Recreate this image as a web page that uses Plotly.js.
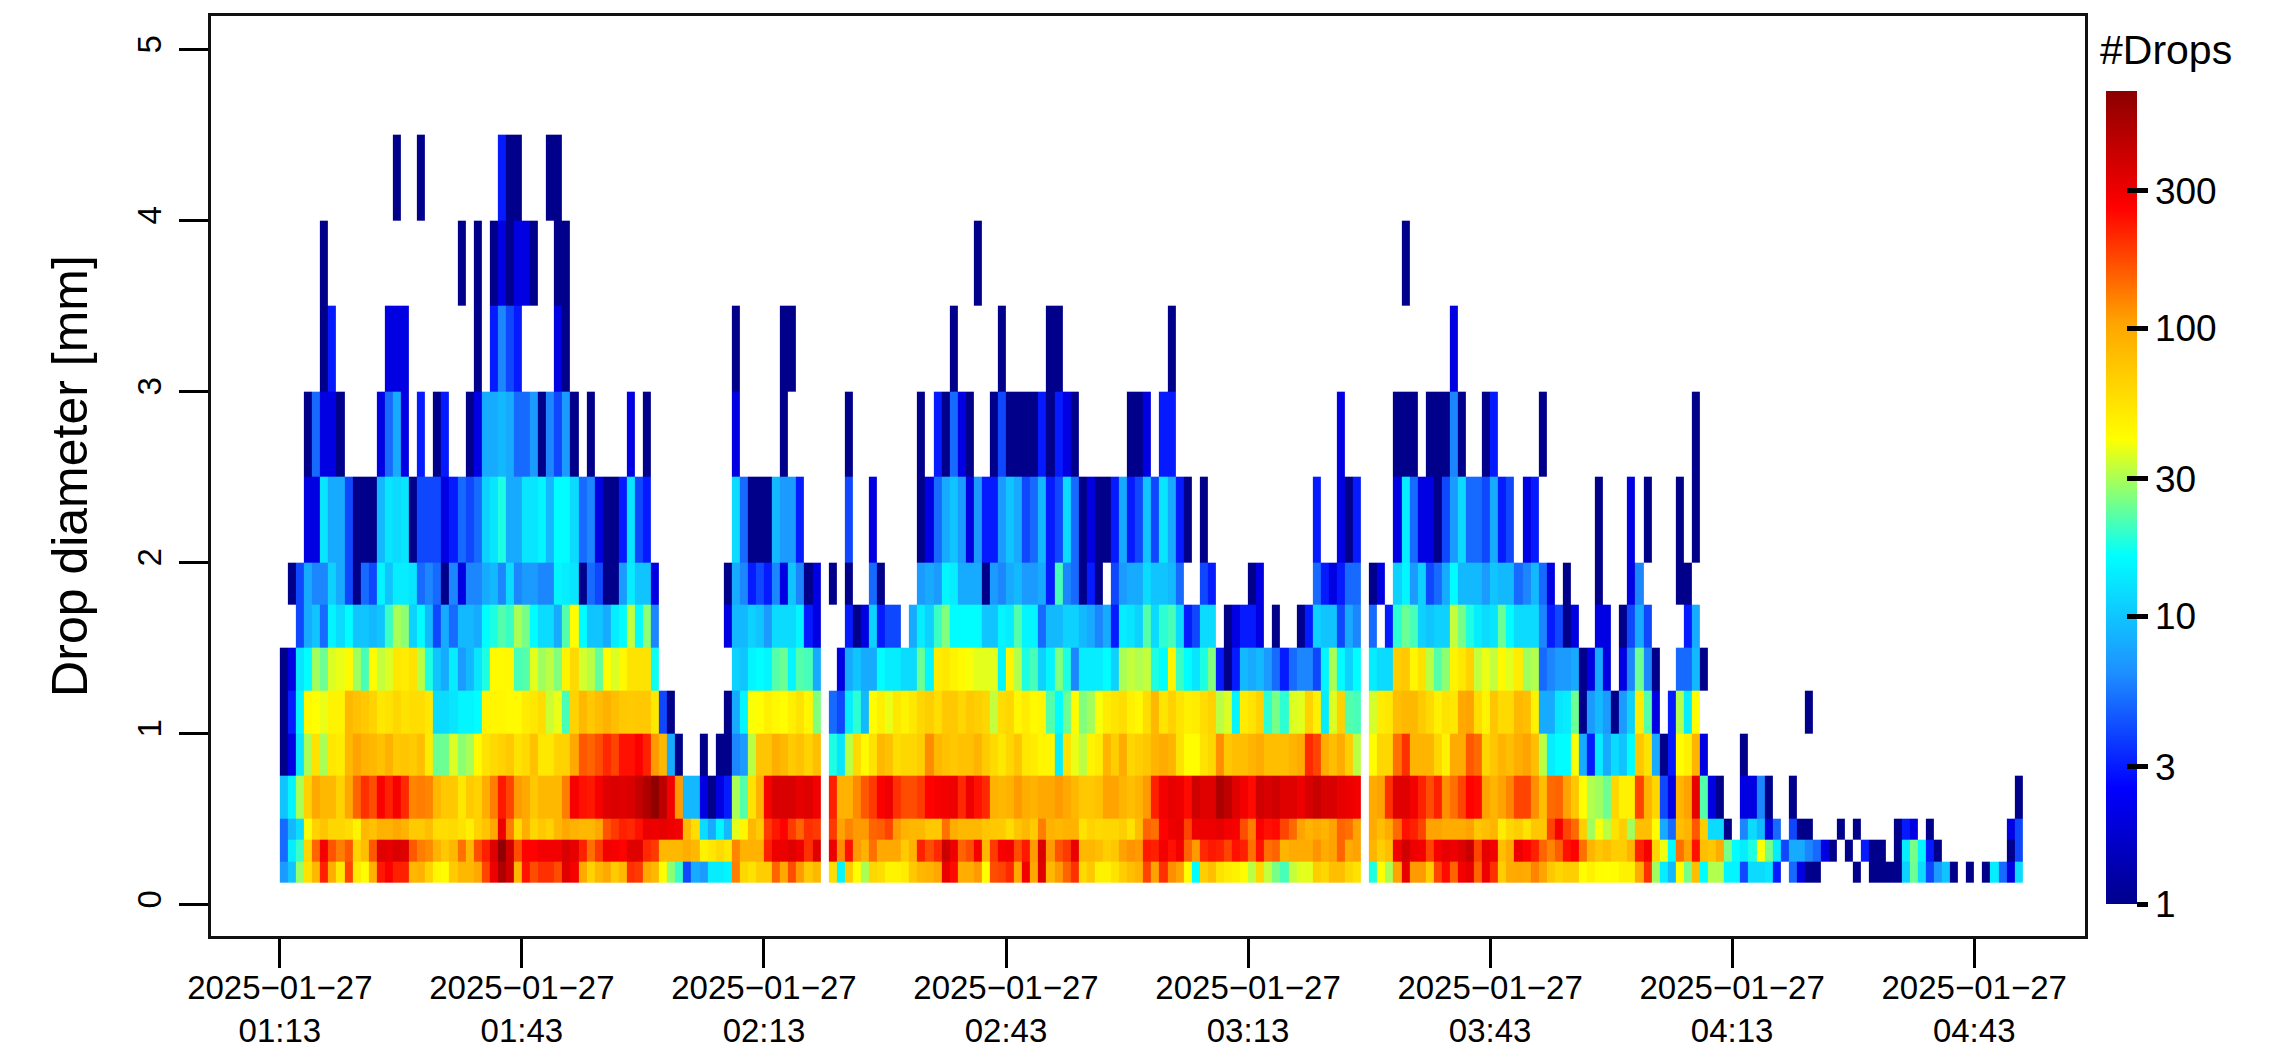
<!DOCTYPE html>
<html>
<head>
<meta charset="utf-8">
<script src="https://cdn.plot.ly/plotly-3.0.1.min.js"></script>
<style>html,body{margin:0;padding:0;background:#fff}</style>
</head>
<body>
<div id="chart" style="width:2279px;height:1050px"></div>
<script>
// drop counts per minute, one list per diameter class, 0 = no drops (left white)
var bin0125 = [7,10,28,55,85,220,95,52,180,50,42,90,230,270,220,220,85,90,65,45,42,70,85,85,100,180,300,500,380,85,240,170,200,200,170,340,280,100,65,85,100,70,85,200,190,100,85,42,27,20,
4,8,7,14,14,15,130,62,55,68,68,150,100,170,110,72,85,0,58,15,70,42,30,62,58,46,46,50,72,85,90,100,310,250,95,95,110,42,170,180,210,100,290,100,340,85,110,150,200,60,72,47,
47,55,68,80,88,180,105,200,118,105,42,16,68,80,55,50,47,42,32,62,33,25,21,33,37,37,68,62,80,80,62,55,0,18,42,30,105,320,110,110,68,180,250,150,290,320,150,300,200,68,98,100,
98,125,105,73,62,68,68,42,47,42,41,42,47,47,98,200,29,14,9,42,25,80,16,31,31,15,15,4,12,12,13,3,0,5,2,1,1,0,0,0,0,1,0,1,1,1,1,11,24,12,4,7,10,1,0,1,0,1,14,5,2,12];
var bin0250 = [5,14,20,62,150,290,165,130,160,65,80,160,340,320,350,340,160,130,120,90,72,85,140,85,170,220,340,640,380,170,260,260,290,290,290,360,320,220,140,190,290,280,260,340,340,210,190,85,85,85,
95,85,47,52,60,52,125,90,90,90,220,300,310,340,300,200,340,0,300,120,240,110,90,140,100,100,100,70,90,220,170,210,400,300,150,170,280,85,190,280,290,170,230,110,350,110,165,190,310,85,85,80,
68,73,105,115,110,230,220,290,240,290,150,110,210,230,220,180,240,220,140,240,140,150,88,98,98,98,115,98,105,150,98,105,0,88,68,80,290,390,300,290,180,280,320,300,340,410,180,320,290,80,98,300,
260,220,150,125,155,240,260,140,88,73,80,68,68,88,220,280,62,39,16,140,105,240,80,73,98,25,16,14,18,41,25,14,4,8,8,6,5,2,1,0,1,0,3,1,1,0,1,14,25,15,3,1,0,0,0,0,0,0,0,0,1,4];
var bin0375 = [5,9,12,40,65,75,62,62,58,46,85,78,92,90,100,90,70,70,80,58,58,60,55,48,65,75,100,300,130,60,95,62,72,65,85,100,90,85,85,100,165,190,220,210,240,310,300,320,300,290,
85,58,12,8,15,9,37,45,85,70,190,230,260,190,150,200,190,0,190,105,125,110,110,150,155,180,110,90,85,85,72,72,140,95,85,85,85,75,72,70,58,75,85,70,130,90,85,90,90,55,65,60,
62,62,68,55,80,150,140,260,300,320,180,300,300,300,320,290,280,170,130,270,240,250,180,145,105,88,98,88,105,150,140,105,0,98,80,98,145,240,220,180,105,105,98,98,98,105,73,80,88,50,62,68,
55,73,73,180,280,180,145,68,29,40,32,55,68,29,80,80,42,8,5,80,88,160,68,12,12,1,0,6,12,9,2,5,0,4,1,1,0,0,0,1,0,1,0,0,0,0,1,3,2,0,1,0,0,0,0,0,0,0,0,0,2,4];
var bin0500 = [10,15,30,65,100,85,85,65,100,150,200,170,270,220,280,210,125,130,125,85,72,72,52,70,65,95,130,230,180,110,100,72,85,85,85,130,280,240,230,280,340,350,340,350,420,500,640,450,290,110,
9,9,2,1,2,3,30,22,55,90,280,360,360,360,320,340,290,0,220,90,90,120,160,190,270,300,200,170,170,190,260,280,290,300,210,300,240,210,90,85,90,110,95,90,100,100,110,100,85,72,72,78,
105,105,88,80,88,110,220,290,320,300,250,390,340,340,510,440,340,290,250,390,360,390,340,340,300,360,410,360,360,320,300,290,0,98,105,200,340,340,290,220,170,220,118,140,180,260,250,105,88,105,125,180,
180,118,80,145,150,105,73,42,31,29,24,62,47,47,180,88,62,4,2,88,105,320,22,2,1,0,0,2,2,6,1,0,0,1,0,0,0,0,0,0,0,0,0,0,0,0,0,0,0,0,0,0,0,0,0,0,0,0,0,0,0,1];
var bin0750 = [1,2,13,30,55,30,52,50,85,105,90,85,78,92,72,75,70,80,50,24,24,36,27,30,43,55,60,65,72,55,60,78,52,52,65,65,100,160,150,170,210,180,240,240,270,220,110,85,8,1,
0,0,1,0,1,1,6,7,32,75,75,95,85,70,78,65,80,0,18,13,32,60,43,55,85,78,58,62,62,68,120,85,78,72,78,78,90,70,60,52,62,75,52,50,45,45,14,55,38,32,46,50,
88,68,98,62,68,73,88,98,88,55,42,42,55,62,118,73,80,80,88,98,80,80,80,88,98,210,180,98,80,98,68,32,0,42,62,62,140,200,88,88,88,62,47,98,98,160,145,62,73,88,80,95,
105,80,32,14,16,16,40,8,3,14,8,12,10,16,73,55,8,1,3,42,47,88,2,0,0,0,0,1,0,0,0,0,0,0,0,0,0,0,0,0,0,0,0,0,0,0,0,0,0,0,0,0,0,0,0,0,0,0,0,0,0,0];
var bin1000 = [1,3,15,43,41,38,46,46,85,78,72,65,52,55,62,55,58,58,52,12,12,13,15,15,16,46,45,45,43,43,50,52,58,34,38,21,65,85,72,82,92,80,72,70,72,72,52,4,1,0,
0,0,0,0,0,1,8,15,40,42,48,44,42,48,55,45,26,0,5,4,14,19,9,42,48,38,52,46,52,62,68,58,72,72,62,72,68,62,33,58,62,45,50,43,45,22,16,24,42,26,29,40,
50,54,58,48,44,58,85,54,65,54,48,50,58,65,32,36,15,50,54,65,19,25,19,36,37,65,48,14,36,65,22,21,0,35,50,52,80,85,85,70,60,48,55,52,100,105,58,46,75,60,60,85,
80,47,8,8,13,14,24,1,7,9,7,1,7,11,50,22,2,0,3,31,14,42,0,0,0,0,0,0,0,0,0,0,0,0,0,1,0,0,0,0,0,0,0,0,0,0,0,0,0,0,0,0,0,0,0,0,0,0,0,0,0,0];
var bin1250 = [1,2,13,16,29,24,36,38,43,29,21,42,33,36,52,50,55,32,18,10,8,14,7,9,13,18,43,43,44,21,22,37,29,32,26,46,60,35,32,23,42,36,44,55,55,55,17,0,0,0,
0,0,0,0,0,0,11,10,15,16,15,22,24,15,22,21,8,0,0,2,8,10,8,8,16,14,14,12,12,24,15,50,52,46,43,40,37,37,37,15,46,31,18,21,11,15,26,18,6,14,14,14,
16,11,30,33,31,33,18,16,46,20,16,13,18,26,3,1,3,9,8,9,7,5,3,5,6,6,4,15,30,16,11,16,0,14,12,12,68,72,45,55,32,22,27,46,52,65,33,38,33,43,37,50,
29,31,5,6,7,7,8,1,2,8,2,0,2,6,24,6,1,0,0,5,5,9,1,0,0,0,0,0,0,0,0,0,0,0,0,0,0,0,0,0,0,0,0,0,0,0,0,0,0,0,0,0,0,0,0,0,0,0,0,0,0,0];
var bin1500 = [0,0,4,8,10,5,15,12,16,10,10,9,10,20,30,27,11,16,9,4,8,5,9,9,8,16,18,22,20,30,25,16,12,12,8,22,42,16,10,10,8,14,16,33,16,27,6,0,0,0,
0,0,0,0,0,2,9,9,11,10,7,12,12,12,15,3,2,0,0,0,3,1,2,11,3,4,4,0,8,14,11,20,26,16,16,16,16,10,10,15,14,22,15,15,5,9,9,11,11,9,8,6,
8,3,14,13,11,22,12,19,21,12,3,4,12,12,0,1,2,3,3,2,0,1,0,0,1,3,11,10,10,4,8,6,0,5,0,3,19,24,21,11,10,11,11,33,25,18,14,12,13,24,16,12,
12,12,6,3,4,1,2,0,0,2,2,0,1,4,8,4,0,0,0,0,3,8,0,0,0,0,0,0,0,0,0,0,0,0,0,0,0,0,0,0,0,0,0,0,0,0,0,0,0,0,0,0,0,0,0,0,0,0,0,0,0,0];
var bin1750 = [0,1,4,8,6,6,11,8,4,1,5,4,15,10,14,14,13,5,6,5,1,6,2,6,6,8,9,6,12,6,7,7,6,6,15,14,13,1,5,4,1,1,7,14,10,10,2,0,0,0,
0,0,0,0,0,1,8,6,3,4,3,6,2,10,6,1,2,0,1,0,1,0,0,5,1,0,0,0,0,7,8,7,15,14,8,8,8,1,7,6,8,9,7,7,8,3,21,6,5,1,3,1,
0,4,7,8,8,12,10,10,9,5,0,0,4,3,0,0,0,0,1,2,0,0,0,0,0,0,5,3,2,3,5,5,0,1,2,0,11,15,7,11,4,5,8,16,9,9,9,7,10,9,9,5,
6,9,5,2,0,1,0,0,0,1,0,0,0,2,6,0,0,0,0,1,1,0,0,0,0,0,0,0,0,0,0,0,0,0,0,0,0,0,0,0,0,0,0,0,0,0,0,0,0,0,0,0,0,0,0,0,0,0,0,0,0,0];
var bin2000 = [0,0,0,2,2,13,8,8,4,1,1,1,9,13,12,13,1,4,4,4,2,3,5,4,5,11,13,18,8,8,13,13,15,9,16,16,12,5,6,2,1,1,3,13,4,3,0,0,0,0,
0,0,0,0,0,0,12,5,1,1,1,9,7,7,3,0,0,0,0,0,4,0,0,2,0,0,0,0,0,1,2,5,8,10,7,2,7,3,3,7,10,8,4,5,9,3,4,12,5,1,2,1,
1,3,8,3,4,10,4,13,8,3,1,0,1,0,0,0,0,0,0,0,0,0,0,0,0,0,3,0,0,2,1,3,0,0,0,0,2,14,5,2,2,1,4,7,12,5,5,4,8,3,4,0,
2,3,0,0,0,0,0,0,0,1,0,0,0,2,0,1,0,0,0,1,0,1,0,0,0,0,0,0,0,0,0,0,0,0,0,0,0,0,0,0,0,0,0,0,0,0,0,0,0,0,0,0,0,0,0,0,0,0,0,0,0,0];
var bin2500 = [0,0,0,1,5,2,2,1,0,0,0,0,2,5,8,2,0,3,0,1,3,0,0,1,2,8,8,9,8,5,5,7,1,6,4,7,1,0,1,0,0,0,0,2,0,1,0,0,0,0,
0,0,0,0,0,0,2,0,0,0,0,0,1,0,0,0,0,0,0,0,1,0,0,0,0,0,0,0,0,1,0,3,1,5,2,1,0,0,1,4,1,1,1,1,3,1,3,2,1,0,0,0,
0,0,0,1,1,2,0,3,3,0,0,0,0,0,0,0,0,0,0,0,0,0,0,0,0,0,0,0,0,2,0,0,0,0,0,0,1,1,1,0,1,1,1,6,1,0,0,1,3,0,0,0,
0,0,1,0,0,0,0,0,0,0,0,0,0,0,0,0,0,0,0,0,0,1,0,0,0,0,0,0,0,0,0,0,0,0,0,0,0,0,0,0,0,0,0,0,0,0,0,0,0,0,0,0,0,0,0,0,0,0,0,0,0,0];
var bin3000 = [0,0,0,0,0,1,3,0,0,0,0,0,0,2,2,2,0,0,0,0,0,0,0,0,1,0,3,6,4,3,0,0,0,0,2,1,0,0,0,0,0,0,0,0,0,0,0,0,0,0,
0,0,0,0,0,0,1,0,0,0,0,0,1,1,0,0,0,0,0,0,0,0,0,0,0,0,0,0,0,0,0,0,0,1,0,0,0,0,0,1,0,0,0,0,0,1,1,0,0,0,0,0,
0,0,0,0,0,0,0,0,1,0,0,0,0,0,0,0,0,0,0,0,0,0,0,0,0,0,0,0,0,0,0,0,0,0,0,0,0,0,0,0,0,0,0,2,0,0,0,0,0,0,0,0,
0,0,0,0,0,0,0,0,0,0,0,0,0,0,0,0,0,0,0,0,0,0,0,0,0,0,0,0,0,0,0,0,0,0,0,0,0,0,0,0,0,0,0,0,0,0,0,0,0,0,0,0,0,0,0,0,0,0,0,0,0,0];
var bin3500 = [0,0,0,0,0,1,0,0,0,0,0,0,0,0,0,0,0,0,0,0,0,0,1,0,1,0,1,2,1,2,2,1,0,0,1,1,0,0,0,0,0,0,0,0,0,0,0,0,0,0,
0,0,0,0,0,0,0,0,0,0,0,0,0,0,0,0,0,0,0,0,0,0,0,0,0,0,0,0,0,0,0,0,0,0,0,0,1,0,0,0,0,0,0,0,0,0,0,0,0,0,0,0,
0,0,0,0,0,0,0,0,0,0,0,0,0,0,0,0,0,0,0,0,0,0,0,0,0,0,0,0,0,0,0,0,0,0,0,0,0,1,0,0,0,0,0,0,0,0,0,0,0,0,0,0,
0,0,0,0,0,0,0,0,0,0,0,0,0,0,0,0,0,0,0,0,0,0,0,0,0,0,0,0,0,0,0,0,0,0,0,0,0,0,0,0,0,0,0,0,0,0,0,0,0,0,0,0,0,0,0,0,0,0,0,0,0,0];
var bin4000 = [0,0,0,0,0,0,0,0,0,0,0,0,0,0,1,0,0,1,0,0,0,0,0,0,0,0,0,3,1,1,0,0,0,1,1,0,0,0,0,0,0,0,0,0,0,0,0,0,0,0,
0,0,0,0,0,0,0,0,0,0,0,0,0,0,0,0,0,0,0,0,0,0,0,0,0,0,0,0,0,0,0,0,0,0,0,0,0,0,0,0,0,0,0,0,0,0,0,0,0,0,0,0,
0,0,0,0,0,0,0,0,0,0,0,0,0,0,0,0,0,0,0,0,0,0,0,0,0,0,0,0,0,0,0,0,0,0,0,0,0,0,0,0,0,0,0,0,0,0,0,0,0,0,0,0,
0,0,0,0,0,0,0,0,0,0,0,0,0,0,0,0,0,0,0,0,0,0,0,0,0,0,0,0,0,0,0,0,0,0,0,0,0,0,0,0,0,0,0,0,0,0,0,0,0,0,0,0,0,0,0,0,0,0,0,0,0,0];

var binEdges = [0.125,0.25,0.375,0.5,0.75,1,1.25,1.5,1.75,2,2.5,3,3.5,4,4.5];
var xTickVals = ['2025-01-27 01:13','2025-01-27 01:43','2025-01-27 02:13','2025-01-27 02:43','2025-01-27 03:13','2025-01-27 03:43','2025-01-27 04:13','2025-01-27 04:43'];
var xTickTimes = ['01:13','01:43','02:13','02:43','03:13','03:43','04:13','04:43'];
var yTicks = [0,1,2,3,4,5];
var barTicks = [1,3,10,30,100,300];
var maxDrops = 665;

var rows = [bin0125,bin0250,bin0375,bin0500,bin0750,bin1000,bin1250,bin1500,bin1750,bin2000,bin2500,bin3000,bin3500,bin4000];

// colours are on a log scale, plotly has no log colorbar so take log10 here
var z = rows.map(function(r) {
  return r.map(function(v) { return v > 0 ? Math.log10(v) : null; });
});

// cell edges, one minute wide
var timeEdges = [];
var start = new Date(Date.UTC(2025, 0, 27, 1, 13));
for (var i = 0; i <= 216; i++) {
  timeEdges.push(new Date(start.getTime() + i * 60000).toISOString().slice(0, 19).replace('T', ' '));
}

var font = 'Liberation Sans, Arial, sans-serif';
var colors = ['#00008B','#0000FF','#1E90FF','#00FFFF','#FFFF00','#FFA500','#FF0000','#8B0000'];
var scale = colors.map(function(c, k) { return [k / (colors.length - 1), c]; });

var barPos = {
  lenmode: 'pixels', len: 813, thickness: 31, thicknessmode: 'pixels',
  x: 1.0112, xanchor: 'left', y: 0.0345, yanchor: 'bottom', xpad: 0, ypad: 0,
  outlinewidth: 0, borderwidth: 0,
  tickmode: 'array',
  tickvals: barTicks.map(function(v) { return Math.log10(v); }),
  tickwidth: 5, tickcolor: '#000'
};

var cells = {
  type: 'heatmap', x: timeEdges, y: binEdges, z: z,
  zmin: 0, zmax: Math.log10(maxDrops), colorscale: scale, hoverongaps: false,
  colorbar: Object.assign({}, barPos, {
    ticktext: barTicks.map(String), ticks: 'outside', ticklen: 11,
    tickfont: {family: font, size: 37, color: '#000'}
  })
};

// transparent copy: only puts the inner half of the colorbar ticks on top of the bar
var barTickOverlay = {
  type: 'heatmap', x: timeEdges, y: binEdges, z: z,
  zmin: 0, zmax: Math.log10(maxDrops), hoverinfo: 'skip',
  colorscale: [[0,'rgba(0,0,0,0)'],[1,'rgba(0,0,0,0)']],
  colorbar: Object.assign({}, barPos, {
    ticktext: barTicks.map(function() { return ''; }), ticks: 'inside', ticklen: 10,
    showticklabels: false
  })
};

var layout = {
  width: 2279, height: 1050,
  margin: {l: 210.5, r: 194, t: 15.5, b: 113.5, pad: 0},
  paper_bgcolor: '#fff', plot_bgcolor: '#fff',
  font: {family: font, color: '#000'},
  xaxis: {
    type: 'date', range: ['2025-01-27 01:04:28', '2025-01-27 04:56:44'],
    tickmode: 'array', tickvals: xTickVals,
    ticktext: xTickTimes.map(function(t) { return '2025\u221201\u221227<br>' + t; }),
    tickfont: {size: 33}, ticks: 'outside', ticklen: 29, tickwidth: 3, tickcolor: '#000',
    showline: true, linecolor: '#111', linewidth: 2.6, mirror: true, showgrid: false, zeroline: false,
    tickangle: 0, ticklabelstandoff: -8
  },
  yaxis: {
    range: [-0.186, 5.194],
    tickmode: 'array', tickvals: yTicks, ticktext: yTicks.map(String),
    tickfont: {size: 33}, tickangle: -90, ticks: 'outside', ticklen: 29, tickwidth: 3, tickcolor: '#000',
    showline: true, linecolor: '#111', linewidth: 2.6, mirror: true, showgrid: false, zeroline: false,
    ticklabelstandoff: 5,
    title: {text: 'Drop diameter [mm]', font: {size: 50}, standoff: 28}
  },
  annotations: [{
    text: '#Drops', xref: 'paper', yref: 'paper', x: 1.0, y: 1, xanchor: 'left', yanchor: 'top',
    xshift: 13, yshift: -9, showarrow: false, font: {size: 41, color: '#000'}
  }]
};

Plotly.newPlot('chart', [cells, barTickOverlay], layout, {displayModeBar: false, staticPlot: true});
</script>
</body>
</html>
